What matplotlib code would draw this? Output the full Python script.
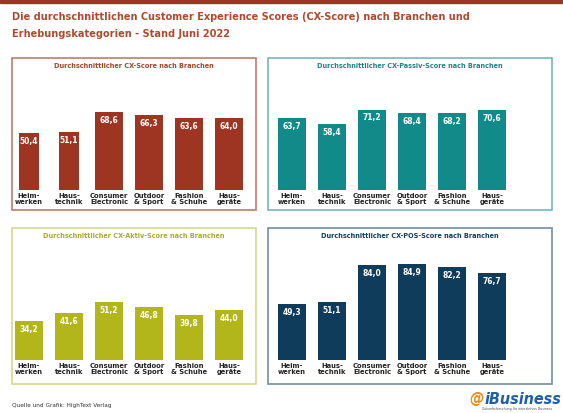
import matplotlib
matplotlib.use("Agg")
import matplotlib.pyplot as plt
from matplotlib.patches import Rectangle

plt.rcParams["font.family"] = ["DejaVu Sans"]
plt.rcParams["font.stretch"] = "condensed"

categories = ["Heim-\nwerken", "Haus-\ntechnik", "Consumer\nElectronic",
              "Outdoor\n& Sport", "Fashion\n& Schuhe", "Haus-\ngeräte"]
cx_score = [50.4, 51.1, 68.6, 66.3, 63.6, 64.0]
cx_passiv = [63.7, 58.4, 71.2, 68.4, 68.2, 70.6]
cx_aktiv = [34.2, 41.6, 51.2, 46.8, 39.8, 44.0]
cx_pos = [49.3, 51.1, 84.0, 84.9, 82.2, 76.7]

W, H = 563, 413
fig = plt.figure(figsize=(W / 100, H / 100), dpi=100)
fig.patch.set_facecolor("white")

# red band at top
fig.patches.append(Rectangle((0, 1 - 3 / H), 1, 3 / H, transform=fig.transFigure,
                             color="#9e3523", zorder=0))
fig.text(12 / W, 1 - 17 / H, "Die durchschnittlichen Customer Experience Scores (CX-Score) nach Branchen und",
         fontsize=7.8, fontweight="bold", color="#b04a2c", va="center")
fig.text(12 / W, 1 - 34 / H, "Erhebungskategorien - Stand Juni 2022",
         fontsize=7.8, fontweight="bold", color="#b04a2c", va="center")

panels = [
    ("Durchschnittlicher CX-Score nach Branchen", cx_score, "#9e3523", "#c47b6c", "#a8442c",
     (12, 58, 256, 210), 9, 190, [0.48, 0.5, 0.72, 0.72, 0.72, 0.72]),
    ("Durchschnittlicher CX-Passiv-Score nach Branchen", cx_passiv, "#138a8a", "#74b9bd", "#1a8585",
     (268, 58, 552, 210), 272, 190, [0.72] * 6),
    ("Durchschnittlicher CX-Aktiv-Score nach Branchen", cx_aktiv, "#b3b61a", "#d6d78c", "#a9ab2a",
     (12, 228, 256, 384), 9, 360, [0.72] * 6),
    ("Durchschnittlicher CX-POS-Score nach Branchen", cx_pos, "#0e3c5a", "#7190a6", "#123e5c",
     (268, 228, 552, 384), 272, 360, [0.72] * 6),
]

scale = 1.13  # px per unit
for title, vals, col, border, tcol, box, ax_left, base, widths in panels:
    x0, y0, x1, y1 = box
    fig.patches.append(Rectangle((x0 / W, 1 - y1 / H), (x1 - x0) / W, (y1 - y0) / H,
                                 transform=fig.transFigure, fill=False,
                                 edgecolor=border, linewidth=1.2))
    fig.text((x0 + x1) / 2 / W, 1 - (y0 + 8) / H, title, fontsize=5.2, fontweight="bold",
             color=tcol, ha="center", va="center")
    top = y0 + 20
    height_px = base - top
    ax = fig.add_axes([ax_left / W, 1 - base / H, 240 / W, height_px / H])
    ax.set_xlim(-0.5, 5.5)
    ax.set_ylim(0, height_px / scale)
    ax.axis("off")
    ax.bar(range(6), vals, width=widths, color=col)
    for i, v in enumerate(vals):
        ax.text(i, v - 3.5, f"{v:.1f}".replace(".", ","), color="white", fontsize=6,
                fontweight="bold", ha="center", va="top")
        ax.text(i, -2.5, categories[i], color="#222222", fontsize=5.4, fontweight="bold",
                ha="center", va="top", linespacing=1.1)

fig.text(12 / W, 1 - 406 / H, "Quelle und Grafik: HighText Verlag", fontsize=4.6,
         color="#333333", va="center")
fig.text(484 / W, 1 - 399 / H, "@", fontsize=11.5, fontweight="bold", color="#f08a1c",
         ha="right", va="center", style="italic")
fig.text(485 / W, 1 - 399 / H, "iBusiness", fontsize=11.5, fontweight="bold", color="#1f5fa8",
         ha="left", va="center", style="italic")
fig.text(552 / W, 1 - 409 / H, "Zukunftsforschung für interaktives Business", fontsize=2.6,
         color="#555555", ha="right", va="center")

fig.savefig("out.png", dpi=100)
